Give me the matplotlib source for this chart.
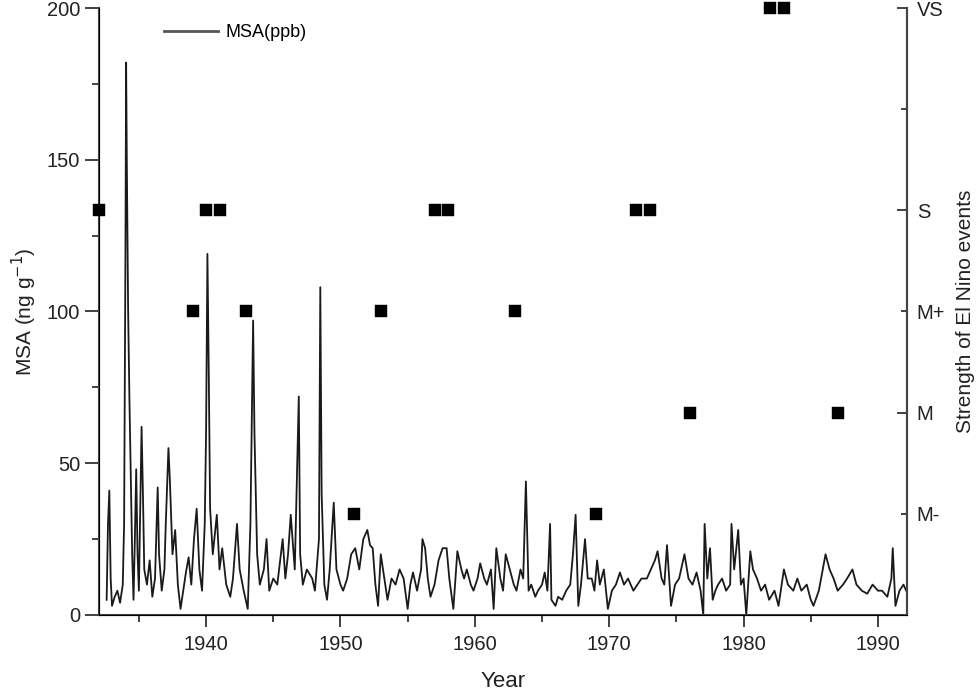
import numpy as np
import matplotlib
matplotlib.use('Agg')
import matplotlib.pyplot as plt
from matplotlib.ticker import MultipleLocator

plt.rcParams['font.family'] = ['Liberation Sans', 'DejaVu Sans']

# ---- MSA 系列 ----
msa_year = [
    1932.6, 1932.7, 1932.8, 1932.9, 1933.0, 1933.2, 1933.4, 1933.6, 1933.8, 1933.9,
    1934.0, 1934.05, 1934.1, 1934.2, 1934.3, 1934.4, 1934.5, 1934.6, 1934.7, 1934.8,
    1934.9, 1935.0, 1935.1, 1935.2, 1935.3, 1935.4, 1935.6, 1935.8, 1936.0, 1936.2,
    1936.4, 1936.5, 1936.7, 1936.9, 1937.0, 1937.2, 1937.3, 1937.5, 1937.7, 1937.9,
    1938.1, 1938.3, 1938.5, 1938.7, 1938.9, 1939.1, 1939.3, 1939.5, 1939.7, 1939.9,
    1940.0, 1940.1, 1940.2, 1940.3, 1940.5, 1940.8, 1941.0, 1941.2, 1941.5, 1941.8,
    1942.0, 1942.3, 1942.5, 1942.8, 1943.1, 1943.3, 1943.5, 1943.6, 1943.8, 1944.0,
    1944.3, 1944.5, 1944.7, 1945.0, 1945.3, 1945.7, 1945.9, 1946.1, 1946.3, 1946.6,
    1946.9, 1947.0, 1947.2, 1947.5, 1947.9, 1948.1, 1948.4, 1948.5, 1948.6, 1948.8,
    1949.0, 1949.2, 1949.5, 1949.7, 1950.0, 1950.2, 1950.5, 1950.8, 1951.1, 1951.4,
    1951.7, 1952.0, 1952.2, 1952.4, 1952.6, 1952.8, 1953.0, 1953.2, 1953.5, 1953.8,
    1954.1, 1954.4, 1954.7, 1955.0, 1955.2, 1955.4, 1955.7, 1956.0, 1956.1, 1956.3,
    1956.5, 1956.7, 1957.0, 1957.3, 1957.6, 1957.9, 1958.1, 1958.4, 1958.7, 1959.0,
    1959.2, 1959.4, 1959.7, 1959.9, 1960.2, 1960.4, 1960.7, 1960.9, 1961.2, 1961.4,
    1961.6, 1961.9, 1962.1, 1962.3, 1962.6, 1962.9, 1963.1, 1963.4, 1963.6, 1963.8,
    1964.0, 1964.2, 1964.5, 1964.7, 1965.0, 1965.2, 1965.4, 1965.6, 1965.7, 1966.0,
    1966.2, 1966.5, 1966.8, 1967.1, 1967.3, 1967.5, 1967.7, 1967.9, 1968.2, 1968.4,
    1968.7, 1968.9, 1969.1, 1969.3, 1969.6, 1969.9, 1970.2, 1970.5, 1970.8, 1971.1,
    1971.4, 1971.8, 1972.1, 1972.4, 1972.8, 1973.1, 1973.4, 1973.6, 1973.9, 1974.1,
    1974.3, 1974.6, 1974.9, 1975.2, 1975.6, 1975.9, 1976.2, 1976.5, 1976.8, 1977.0,
    1977.1, 1977.3, 1977.5, 1977.7, 1977.9, 1978.1, 1978.4, 1978.7, 1979.0, 1979.1,
    1979.3, 1979.6, 1979.8, 1980.0, 1980.2, 1980.5, 1980.7, 1981.0, 1981.3, 1981.6,
    1981.9, 1982.3, 1982.6, 1983.0, 1983.3, 1983.7, 1984.0, 1984.3, 1984.7, 1985.0,
    1985.2, 1985.6, 1986.1, 1986.4, 1986.7, 1987.0, 1987.4, 1987.7, 1988.1, 1988.4,
    1988.8, 1989.2, 1989.6, 1990.0, 1990.3, 1990.7, 1991.0, 1991.1, 1991.3, 1991.6,
    1991.9, 1992.1,
]
msa_val = [
    5, 30, 41, 12, 3, 6, 8, 4, 10, 30,
    120, 182, 150, 100, 70, 45, 20, 5, 25, 48,
    20, 8, 35, 62, 40, 15, 10, 18, 6, 12,
    42, 20, 8, 15, 30, 55, 45, 20, 28, 10,
    2, 8, 14, 19, 10, 25, 35, 15, 8, 30,
    60, 119, 80, 35, 20, 33, 15, 22, 10, 6,
    12, 30, 15, 8, 2, 30, 97, 60, 20, 10,
    15, 25, 8, 12, 10, 25, 12, 20, 33, 15,
    72, 20, 10, 15, 12, 8, 25, 108, 40, 10,
    5, 15, 37, 15, 10, 8, 12, 20, 22, 15,
    25, 28, 23, 22, 10, 3, 20, 14, 5, 12,
    10, 15, 12, 2, 10, 14, 8, 15, 25, 22,
    12, 6, 10, 18, 22, 22, 12, 2, 21, 15,
    12, 15, 10, 8, 12, 17, 12, 10, 15, 2,
    22, 12, 8, 20, 15, 10, 8, 15, 12, 44,
    8, 10, 6, 8, 10, 14, 8, 30, 5, 3,
    6, 5, 8, 10, 20, 33, 3, 10, 25, 12,
    12, 8, 18, 10, 15, 2, 8, 10, 14, 10,
    12, 8, 10, 12, 12, 15, 18, 21, 12, 10,
    23, 3, 10, 12, 20, 12, 10, 14, 8, 0,
    30, 12, 22, 5, 8, 10, 12, 8, 10, 30,
    15, 28, 10, 12, 0, 21, 15, 12, 8, 10,
    5, 8, 3, 15, 10, 8, 12, 8, 10, 5,
    3, 8, 20, 15, 12, 8, 10, 12, 15, 10,
    8, 7, 10, 8, 8, 6, 12, 22, 3, 8,
    10, 8,
]

# ---- El Nino イベント ----
nino_year = [1932, 1939, 1940, 1941, 1943, 1951, 1953, 1957, 1958, 1963,
             1969, 1972, 1973, 1976, 1982, 1983, 1987]
nino_level = ['S', 'M+', 'S', 'S', 'M+', 'M-', 'M+', 'S', 'S', 'M+',
              'M-', 'S', 'S', 'M', 'VS', 'VS', 'M']
level_names = ['M-', 'M', 'M+', 'S', '', 'VS']
level_pos = [200 / 6 * (i + 1) for i in range(6)]  # 右軸の目盛りは MSA 軸と同じスケール

fig = plt.figure(figsize=(9.8, 6.97), dpi=100)
ax = fig.add_axes([0.101, 0.1177, 0.8245, 0.8708])

ax.plot(msa_year, msa_val, color='#1a1a1a', lw=1.3, label='MSA(ppb)')
lv = dict(zip(level_names, level_pos))
ax.plot(nino_year, [lv[s] for s in nino_level], 's', color='black',
        ms=8.6, mec='black', mew=0.3, clip_on=False, zorder=5)

ax.set_xlim(1932.03, 1992.16)
ax.set_ylim(0, 200)
ax.xaxis.set_major_locator(MultipleLocator(10))
ax.xaxis.set_minor_locator(MultipleLocator(5))
ax.yaxis.set_major_locator(MultipleLocator(50))
ax.yaxis.set_minor_locator(MultipleLocator(25))
ax.tick_params(which='major', direction='out', length=8.5, width=1.3,
               labelsize=14.5, colors='#333333', labelcolor='#222222')
ax.tick_params(which='minor', direction='out', length=5, width=1.3, colors='#333333')
ax.tick_params(axis='y', which='major', length=10, pad=3.5)
ax.tick_params(axis='x', pad=6)

for s in ax.spines.values():
    s.set_linewidth(1.5)
    s.set_color('#444444')
ax.spines['top'].set_visible(False)

ax.set_xlabel('Year', fontsize=16, labelpad=12, color='#222222')
ax.set_ylabel('MSA (ng g$^{-1}$)', fontsize=15, labelpad=6, color='#222222')

# 右軸
ax2 = ax.twinx()
ax2.set_ylim(0, 200)
ax2.spines['top'].set_visible(False)
ax2.spines['right'].set_linewidth(1.5)
ax2.spines['right'].set_color('#444444')
ax2.set_yticks([level_pos[i] for i in (1, 3, 5)])
ax2.set_yticklabels([level_names[i] for i in (1, 3, 5)])
ax2.set_yticks([level_pos[i] for i in (0, 2, 4)], minor=True)
ax2.set_yticklabels([level_names[i] for i in (0, 2, 4)], minor=True)
ax2.tick_params(axis='y', which='both', direction='in', labelsize=14.5,
                colors='#333333', labelcolor='#222222', width=1.3, pad=7)
ax2.tick_params(axis='y', which='major', length=7)
ax2.tick_params(axis='y', which='minor', length=4.5)
ax2.set_ylabel('Strength of El Nino events', fontsize=15, labelpad=8, color='#222222')

leg = ax.legend(loc='upper left', bbox_to_anchor=(0.06, 1.0), frameon=False,
                fontsize=13, handlelength=3.0, handletextpad=0.4)
for h in leg.get_lines():
    h.set_color('#555555')
    h.set_linewidth(2)

fig.savefig('out.png', dpi=100)
